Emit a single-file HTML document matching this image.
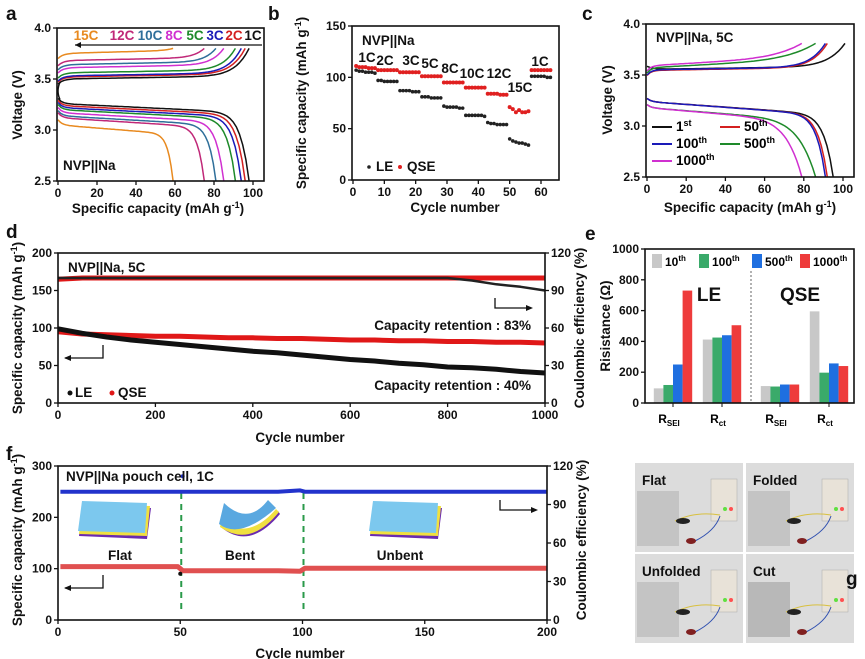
<!DOCTYPE html>
<html><head><meta charset="utf-8"><style>
body{margin:0;background:#fff}
svg{display:block;font-family:"Liberation Sans",Arial,sans-serif;font-weight:bold}
.t{font-size:12px}
.ti{font-size:13.5px}
.pl{font-size:19px}
</style></head><body>
<svg id="fig" width="865" height="659" viewBox="0 0 865 659" xmlns="http://www.w3.org/2000/svg"></svg>
<script>
// ---------- DATA ----------
const aRates=["1C","2C","3C","5C","8C","10C","12C","15C"];
const aCaps=[98,96,94,91,85,81,75,59];
const aChg=[3.50,3.52,3.53,3.56,3.61,3.64,3.68,3.75];
const aDis=[3.26,3.24,3.22,3.20,3.17,3.14,3.12,3.05];
const aColors=["#111","#d42020","#1a1ab8","#1e8a2a","#d030d0","#2f6f9a","#c02878","#e88a20"];

const bRates=["1C","2C","3C","5C","8C","10C","12C","15C","1C"];
const bLE=[107,106,106,105,105,105,104,97,97,96,96,96,96,96,87,87,87,87,86,86,86,81,81,81,80,80,80,80,72,71,71,71,71,70,70,63,63,63,63,63,63,62,56,55,55,54,54,54,54,40,38,37,36,36,35,34,101,101,101,101,101,100,100];
const bQSE=[111,110,110,110,109,109,109,107,107,107,107,107,107,107,105,105,105,105,105,105,105,101,101,101,101,101,101,101,95,95,95,95,95,95,95,90,90,90,90,90,90,90,84,84,84,84,83,83,83,71,69,66,68,66,66,67,107,107,107,107,107,107,107];

const cLabels=["1st","50th","100th","500th","1000th"];
const cChgCap=[101,92,91,86,79];
const cDisCap=[95,92,91,86,79];
const cColors=["#111","#d42020","#1a1ab8","#1e8a2a","#d030d0"];

const dCycles=[0,50,100,150,200,250,300,350,400,450,500,550,600,650,700,750,800,850,900,950,1000];
const dLEcap=[99,93,88,84,81,78,75,72,69,67,64,61,58,56,53,51,48,47,45,42,40];
const dQSEcap=[95,92,91,90,89,89,88,87,87,86,86,85,84,84,83,83,82,82,81,81,80];
const dLEce=[100,100,100,100,100,100,100,100,100,100,100,100,100,100,100,100,100,98,95,93,90];
const dQSEce=[99,100,100,100,100,100,100,100,100,100,100,100,100,100,100,100,100,100,100,100,100];

const eGroups=["SEI","ct","SEI","ct"];
const eSeries=["10th","100th","500th","1000th"];
const e10=[95,412,110,595];
const e100=[117,425,107,197];
const e500=[250,440,120,257];
const e1000=[730,505,120,240];
const eColors=["#c8c8c8","#3aaa6a","#1f6fe0","#ee3b3b"];

const fCycles=[1,10,20,30,40,49,51,60,70,80,90,99,101,110,120,130,140,150,160,170,180,190,200];
const fCap=[104,104,104,104,104,104,96,96,96,96,96,95,101,101,101,101,101,101,101,101,101,101,101];
const fCE=[100,100,100,100,100,100,100,100,100,100,100,101,100,100,100,100,100,100,100,100,100,100,100];

// ---------- HELPERS ----------
const NS="http://www.w3.org/2000/svg";
const svg=document.getElementById('fig');
function el(tag,attrs,parent,text){const e=document.createElementNS(NS,tag);for(const k in attrs)e.setAttribute(k,attrs[k]);if(text!==undefined)e.textContent=text;(parent||svg).appendChild(e);return e;}
function lin(d0,d1,r0,r1){return v=>r0+(v-d0)*(r1-r0)/(d1-d0);}
function txt(x,y,s,cls,anchor,fill,parent){return el('text',{x:x,y:y,class:cls||'t','text-anchor':anchor||'middle',fill:fill||'#111'},parent,s);}
function frame(x0,y0,x1,y1,g){el('rect',{x:x0,y:y0,width:x1-x0,height:y1-y0,fill:'none',stroke:'#111','stroke-width':1.6},g);}
function xTicks(g,xs,vals,y,labels){vals.forEach((v,i)=>{el('line',{x1:xs(v),x2:xs(v),y1:y,y2:y+4,stroke:'#111','stroke-width':1.3},g);if(labels!==false)txt(xs(v),y+16,String(v),'t','middle','#111',g);});}
function yTicks(g,ys,vals,x,labels,right){vals.forEach((v,i)=>{el('line',{x1:x,x2:right?x+4:x-4,y1:ys(v),y2:ys(v),stroke:'#111','stroke-width':1.3},g);const lab=labels?labels[i]:String(v);txt(right?x+6:x-6,ys(v)+4,lab,'t',right?'start':'end','#111',g);});}
function yTitle(g,x,y,s){const t=txt(x,y,s,'ti','middle','#111',g);t.setAttribute('transform',`rotate(-90 ${x} ${y})`);return t;}
function poly(g,pts,color,w){return el('polyline',{points:pts.map(p=>p[0].toFixed(1)+','+p[1].toFixed(1)).join(' '),fill:'none',stroke:color,'stroke-width':w||1.6,'stroke-linejoin':'round'},g);}

// ---------- PANEL A ----------
(function(){
const g=el('g',{},svg);
txt(6,20,'a','pl','start');
const xs=lin(0,100,58,253), ys=lin(2.5,4.0,181,28);
aCaps.forEach((cap,i)=>{
  const ch=[],dis=[];
  for(let k=0;k<=60;k++){const t=k/60,x=cap*t;
    const v=aChg[i]-0.05*Math.exp(-x/2.5)+0.03*t+(3.8-aChg[i]-0.03)*Math.pow(t,14);
    ch.push([xs(x),ys(Math.min(v,3.8))]);
    const d=aDis[i]+0.05*Math.exp(-x/2)-0.09*t-(aDis[i]-0.09-2.5)*Math.pow(t,22);
    dis.push([xs(x),ys(Math.max(d,2.5))]);}
  const c=poly(g,ch,aColors[i],1.5);
  const d=poly(g,dis,aColors[i],1.5);
});
el('path',{d:`M${xs(1)},${ys(3.47)} Q${xs(-1)},${ys(3.38)} ${xs(1)},${ys(3.3)}`,fill:'none',stroke:'#111','stroke-width':1.5},g);
frame(57,28,264,181,g);
xTicks(g,xs,[0,20,40,60,80,100],181);
yTicks(g,ys,[2.5,3.0,3.5,4.0],57,["2.5","3.0","3.5","4.0"]);
txt(158,213,'','ti','middle','#111',g).innerHTML='Specific capacity (mAh g<tspan dy="-5" font-size="9">-1</tspan><tspan dy="5">)</tspan>';
yTitle(g,22,105,'Voltage (V)');
const lx=[253,234,215,195,174,150,122,86];
for(let i=0;i<8;i++){const t=txt(lx[i],40,aRates[i],'ti','middle',aColors[i],g);t.setAttribute('font-size','13');}
el('line',{x1:75,x2:262,y1:45,y2:45,stroke:'#111','stroke-width':1.2},g);
el('path',{d:'M75,45 l6,-3 v6 z',fill:'#111'},g);
txt(63,170,'NVP||Na','ti','start','#111',g);
})();

// ---------- PANEL B ----------
(function(){
const g=el('g',{},svg);
txt(268,20,'b','pl','start');
const xs=lin(0,60,353,541), ys=lin(0,150,180,26);
bLE.forEach((v,i)=>{const c=el('circle',{cx:xs(i+1),cy:ys(v),r:1.8,fill:'#222'},g);});
bQSE.forEach((v,i)=>{const c=el('circle',{cx:xs(i+1),cy:ys(v),r:2,fill:'#e02020'},g);});
frame(352,26,559,180,g);
xTicks(g,xs,[0,10,20,30,40,50,60],180);
yTicks(g,ys,[0,50,100,150],352);
txt(455,212,'Cycle number','ti','middle','#111',g);
const t=yTitle(g,306,103,'');t.innerHTML='Specific capacity (mAh g<tspan dy="-5" font-size="9">-1</tspan><tspan dy="5">)</tspan>';
txt(362,45,'NVP||Na','ti','start','#111',g);
const lp=[[367,62],[385,65],[411,65],[430,68],[450,73],[472,78],[499,78],[520,92],[540,66]];
bRates.forEach((r,i)=>{const q=txt(lp[i][0],lp[i][1],r,'ti','middle','#111',g);q.setAttribute('font-size','13');});
el('circle',{cx:369,cy:167,r:1.8,fill:'#222'},g);txt(376,171,'LE','ti','start','#111',g);
el('circle',{cx:400,cy:167,r:2,fill:'#e02020'},g);txt(407,171,'QSE','ti','start','#111',g);
})();

// ---------- PANEL C ----------
(function(){
const g=el('g',{},svg);
txt(582,20,'c','pl','start');
const xs=lin(0,100,647,843), ys=lin(2.5,4.0,177,24);
const chgP=[3.555,3.545,3.55,3.57,3.59], disP=[3.24,3.24,3.24,3.18,3.18];
cChgCap.forEach((cap,i)=>{
  const ch=[],dis=[];
  for(let k=0;k<=60;k++){const t=k/60,x=cap*t;
    const v=chgP[i]+(i==0?0.03*Math.exp(-x/3):-0.05*Math.exp(-x/2))+(i>=3?0.09*t:0.03*t)+(3.81-chgP[i]-(i>=3?0.09:0.03))*Math.pow(t,i>=3?6:12);
    ch.push([xs(x),ys(Math.min(v,3.81))]);
    const dc=cDisCap[i];const x2=dc*t;
    const d=disP[i]+0.03*Math.exp(-x2/2)-0.13*t-(disP[i]-0.13-2.5)*Math.pow(t,i>=3?10:20);
    dis.push([xs(x2),ys(Math.max(d,2.5))]);}
  const c=poly(g,ch,cColors[i],1.5);
  const d=poly(g,dis,cColors[i],1.5);
});
frame(646,24,854,177,g);
xTicks(g,xs,[0,20,40,60,80,100],177);
yTicks(g,ys,[2.5,3.0,3.5,4.0],646,["2.5","3.0","3.5","4.0"]);
const tt=txt(750,212,'','ti','middle','#111',g);tt.innerHTML='Specific capacity (mAh g<tspan dy="-5" font-size="9">-1</tspan><tspan dy="5">)</tspan>';
yTitle(g,612,100,'Voltage (V)');
txt(656,42,'NVP||Na, 5C','ti','start','#111',g);
const lg=[[652,131],[720,131],[652,148],[720,148],[652,165]];
cLabels.forEach((l,i)=>{el('line',{x1:lg[i][0],x2:lg[i][0]+20,y1:lg[i][1]-4,y2:lg[i][1]-4,stroke:cColors[i],'stroke-width':2},g);
 const m=l.match(/(\d+)(\D+)/);const t=el('text',{x:lg[i][0]+24,y:lg[i][1],class:'ti'},g);t.textContent=m[1];el('tspan',{dy:-5,'font-size':'9px'},t,m[2]);});
})();

// ---------- PANEL D ----------
(function(){
const g=el('g',{},svg);
txt(6,238,'d','pl','start');
const xs=lin(0,1000,58,545), ys=lin(0,200,403,253), yr=lin(0,120,403,253);
const s1=poly(g,dCycles.map((c,i)=>[xs(c),yr(dQSEce[i])]),'#e01818',5);
const s2=poly(g,dCycles.map((c,i)=>[xs(c),yr(dLEce[i])]),'#222',2.5);
const s3=poly(g,dCycles.map((c,i)=>[xs(c),ys(dQSEcap[i])]),'#e01818',5);
const s4=poly(g,dCycles.map((c,i)=>[xs(c),ys(dLEcap[i])]),'#111',5);
frame(58,253,545,403,g);
xTicks(g,xs,[0,200,400,600,800,1000],403);
yTicks(g,ys,[0,50,100,150,200],58);
yTicks(g,yr,[0,30,60,90,120],545,null,true);
txt(300,442,'Cycle number','ti','middle','#111',g);
const t=yTitle(g,22,328,'');t.innerHTML='Specific capacity (mAh g<tspan dy="-5" font-size="9">-1</tspan><tspan dy="5">)</tspan>';
yTitle(g,584,328,'Coulombic efficiency (%)');
txt(68,272,'NVP||Na, 5C','ti','start','#111',g);
txt(531,330,'Capacity retention : 83%','ti','end','#111',g);
txt(531,390,'Capacity retention : 40%','ti','end','#111',g);
el('path',{d:'M103,345 v13 h-38',fill:'none',stroke:'#111','stroke-width':1.3},g);el('path',{d:'M64,358 l7,-3 v6 z',fill:'#111'},g);
el('path',{d:'M495,298 v10 h36',fill:'none',stroke:'#111','stroke-width':1.3},g);el('path',{d:'M533,308 l-7,-3 v6 z',fill:'#111'},g);
el('circle',{cx:70,cy:393,r:2.5,fill:'#111'},g);txt(75,397,'LE','ti','start','#111',g);
el('circle',{cx:112,cy:393,r:2.5,fill:'#e01818'},g);txt(118,397,'QSE','ti','start','#111',g);
})();

// ---------- PANEL E ----------
(function(){
const g=el('g',{},svg);
txt(585,240,'e','pl','start');
const ys=lin(0,1000,403,249);const centers=[673,722,780,829];const bw=9.6;
const series=[e10,e100,e500,e1000];
series.forEach((arr,s)=>arr.forEach((v,i)=>{const x=centers[i]+(s-2)*bw;const r=el('rect',{x:x,y:ys(v),width:bw,height:403-ys(v),fill:eColors[s]},g);}));
el('line',{x1:751,x2:751,y1:271,y2:403,stroke:'#666','stroke-width':1,'stroke-dasharray':'2,2'},g);
frame(645,249,854,403,g);
yTicks(g,ys,[0,200,400,600,800,1000],645);
centers.forEach((c,i)=>{el('line',{x1:c,x2:c,y1:403,y2:407,stroke:'#111'},g);const t=el('text',{x:c-4,y:423,class:'t','text-anchor':'middle'},g);t.textContent='R';el('tspan',{dy:3,'font-size':'8px'},t,eGroups[i]);});
yTitle(g,610,326,'Risistance (Ω)');
txt(709,301,'LE','pl','middle','#111',g).setAttribute('font-size','16');
txt(800,301,'QSE','pl','middle','#111',g).setAttribute('font-size','16');
const lx=[652,699,752,800];
eSeries.forEach((s,i)=>{el('rect',{x:lx[i],y:254,width:10,height:14,fill:eColors[i]},g);const m=s.match(/(\d+)(\D+)/);const t=el('text',{x:lx[i]+13,y:266,class:'t'},g);t.textContent=m[1];el('tspan',{dy:-5,'font-size':'8px'},t,m[2]);});
})();

// ---------- PANEL F ----------
(function(){
const g=el('g',{},svg);
txt(6,460,'f','pl','start');
const xs=lin(0,200,58,547), ys=lin(0,300,620,466), yr=lin(0,120,620,466);
[50,100].forEach(c=>el('line',{x1:xs(c)+1,x2:xs(c)+1,y1:493,y2:610,stroke:'#2a9a4a','stroke-width':2,'stroke-dasharray':'6,5'},g));
const a=poly(g,fCycles.map((c,i)=>[xs(c),yr(fCE[i])]),'#2233cc',4);
const b=poly(g,fCycles.map((c,i)=>[xs(c),ys(fCap[i])]),'#e05050',5);
el('circle',{cx:xs(50),cy:ys(90),r:2,fill:'#111'},g);el('circle',{cx:xs(51),cy:yr(112),r:2,fill:'#2233cc'},g);
frame(58,466,547,620,g);
xTicks(g,xs,[0,50,100,150,200],620);
yTicks(g,ys,[0,100,200,300],58);
yTicks(g,yr,[0,30,60,90,120],547,null,true);
txt(300,658,'Cycle number','ti','middle','#111',g);
const t=yTitle(g,22,540,'');t.innerHTML='Specific capacity (mAh g<tspan dy="-5" font-size="9">-1</tspan><tspan dy="5">)</tspan>';
yTitle(g,586,540,'Coulombic efficiency (%)');
txt(66,481,'NVP||Na pouch cell, 1C','ti','start','#111',g);
function slab(x,y){el('polygon',{points:`${x},${y+30} ${x+68},${y+33} ${x+72},${y+2} ${x+4},${y}`,fill:'#6a2ab0'},g);el('polygon',{points:`${x},${y+28} ${x+68},${y+30} ${x+71},${y} ${x+4},${y-2}`,fill:'#f0e040'},g);el('polygon',{points:`${x-1},${y+25} ${x+66},${y+27} ${x+68},${y-3} ${x+3},${y-5}`,fill:'#7cc8ee'},g);}
slab(79,506);slab(370,506);
el('path',{d:'M222,528 Q250,550 280,514 L278,511 Q250,542 223,522 Z',fill:'#6a2ab0'},g);
el('path',{d:'M220,527 Q250,548 279,512 L276,509 Q250,540 221,522 Z',fill:'#f0e040'},g);
el('path',{d:'M219,524 Q240,540 276,508 L268,500 Q248,526 224,503 Z',fill:'#5aa8e0'},g);
txt(120,560,'Flat','ti','middle','#111',g);txt(240,560,'Bent','ti','middle','#111',g);txt(400,560,'Unbent','ti','middle','#111',g);
el('path',{d:'M103,575 v13 h-38',fill:'none',stroke:'#111','stroke-width':1.3},g);el('path',{d:'M64,588 l7,-3 v6 z',fill:'#111'},g);
el('path',{d:'M500,500 v10 h36',fill:'none',stroke:'#111','stroke-width':1.3},g);el('path',{d:'M538,510 l-7,-3 v6 z',fill:'#111'},g);
})();

// ---------- PANEL G ----------
(function(){
const g=el('g',{},svg);
txt(846,585,'g','pl','start');
const cells=[[635,463,"Flat"],[746,463,"Folded"],[635,554,"Unfolded"],[746,554,"Cut"]];
cells.forEach((c,i)=>{const [x,y,l]=c;const p=el('g',{},g);
 el('rect',{x:x,y:y,width:108,height:89,fill:'#dcdcdc'},p);
 el('rect',{x:x+2,y:y+28,width:42,height:55,fill:i==3?'#b8b8b8':'#c4c4c4'},p);
 el('rect',{x:x+76,y:y+16,width:26,height:42,fill:'#e8e2d8',stroke:'#aaa','stroke-width':.5},p);
 el('path',{d:`M${x+40},${y+58} q20,-10 45,-6`,fill:'none',stroke:'#d8c040','stroke-width':1},p);
 el('path',{d:`M${x+60},${y+78} q20,-10 25,-25`,fill:'none',stroke:'#3050b0','stroke-width':1},p);
 el('ellipse',{cx:x+48,cy:y+58,rx:7,ry:3,fill:'#222'},p);
 el('ellipse',{cx:x+56,cy:y+78,rx:5,ry:3,fill:'#802020'},p);
 el('circle',{cx:x+90,cy:y+46,r:2,fill:'#60e040'},p);el('circle',{cx:x+96,cy:y+46,r:2,fill:'#ff5050'},p);
 txt(x+7,y+22,l,'ti','start','#111',p).setAttribute('font-size','14');});
})();
</script>
</body></html>
